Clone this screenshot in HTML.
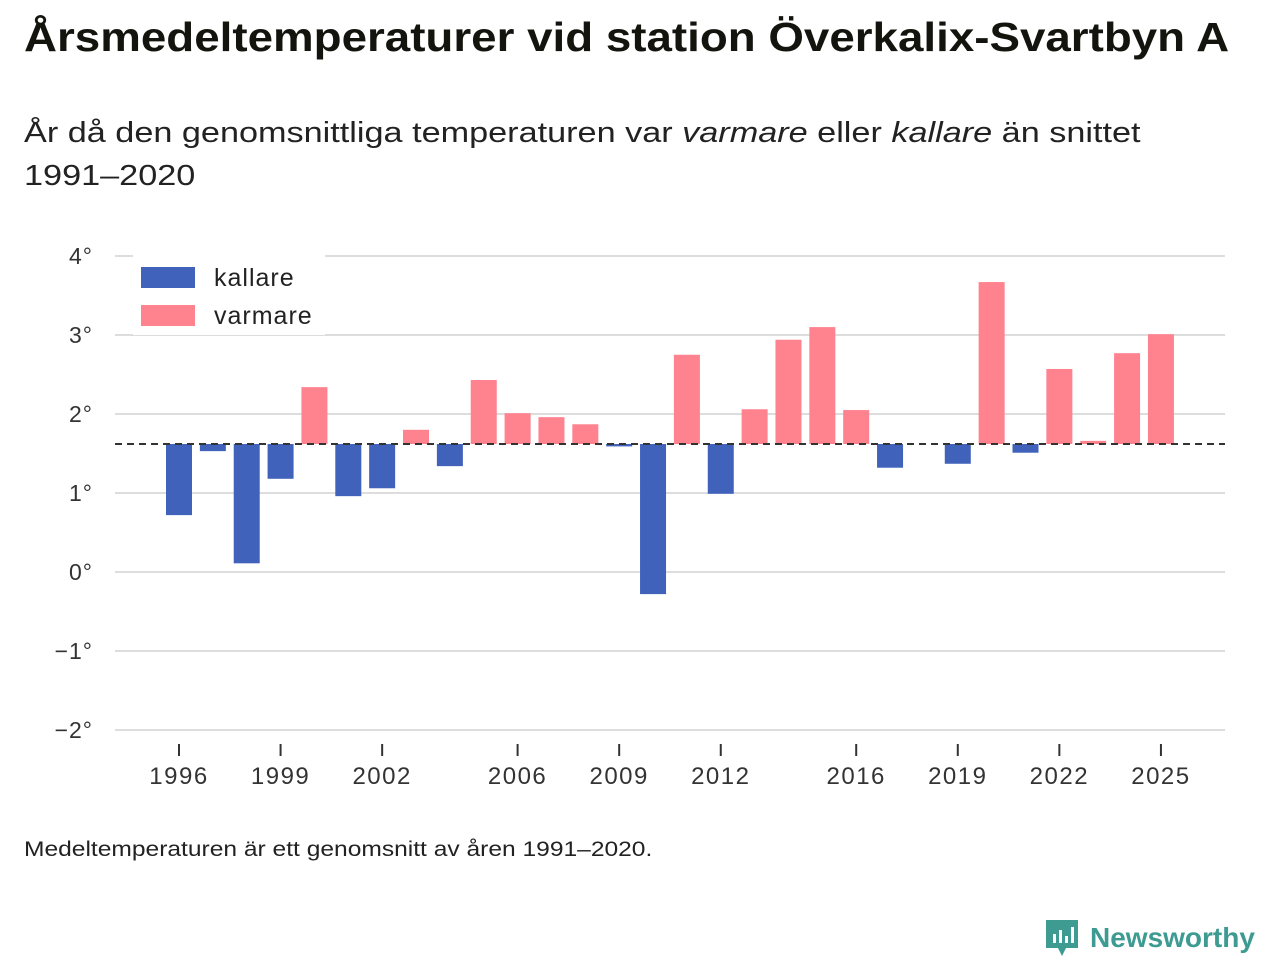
<!DOCTYPE html>
<html><head><meta charset="utf-8">
<style>
body{margin:0;width:1280px;height:960px;background:#fff;font-family:"Liberation Sans","DejaVu Sans",sans-serif;color:#111;overflow:hidden;position:relative}
h1{position:absolute;left:24px;top:14px;margin:0;font-size:41px;font-weight:bold;color:#14140f;white-space:nowrap;transform:scaleX(1.115);transform-origin:left top}
.sub{position:absolute;left:24px;top:112px;font-size:29px;line-height:43px;color:#222;white-space:nowrap;transform:scaleX(1.18);transform-origin:left top}
.foot{position:absolute;left:24px;top:838px;font-size:21px;color:#222;white-space:nowrap;transform:scaleX(1.17);transform-origin:left top}
.logo{position:absolute;left:1044px;top:918px;display:flex;align-items:center;gap:10px;color:#3d9b91;font-size:28px;font-weight:bold}
</style></head><body>
<h1>Årsmedeltemperaturer vid station Överkalix-Svartbyn A</h1>
<div class="sub">År då den genomsnittliga temperaturen var <i>varmare</i> eller <i>kallare</i> än snittet<br>1991–2020</div>
<svg id="chart" width="1280" height="960" style="position:absolute;left:0;top:0"></svg>
<div class="foot">Medeltemperaturen är ett genomsnitt av åren 1991–2020.</div>
<div class="logo"><svg width="36" height="40" viewBox="0 0 36 40"><path d="M2 2h32v28H22l-4 8-4-8H2z" fill="#3d9b91"/><rect x="9" y="16" width="3" height="9" fill="#fff"/><rect x="15" y="12" width="3" height="13" fill="#fff"/><rect x="21" y="18" width="3" height="7" fill="#fff"/><rect x="27" y="9" width="3" height="16" fill="#fff"/></svg><span>Newsworthy</span></div>
<script>
const years=[1996,1997,1998,1999,2000,2001,2002,2003,2004,2005,2006,2007,2008,2009,2010,2011,2012,2013,2014,2015,2016,2017,2018,2019,2020,2021,2022,2023,2024,2025];
const temps=[0.72,1.53,0.11,1.18,2.34,0.96,1.06,1.80,1.34,2.43,2.01,1.96,1.87,1.59,-0.28,2.75,0.99,2.06,2.94,3.10,2.05,1.32,null,1.37,3.67,1.51,2.57,1.66,2.77,3.01];
const baseline=1.62;
const yTicks=[4,3,2,1,0,-1,-2];
const xTickYears=[1996,1999,2002,2006,2009,2012,2016,2019,2022,2025];
const NS="http://www.w3.org/2000/svg";
const svg=document.getElementById('chart');
const yS=v=>572-v*79;
const xS=y=>179+(y-1996)*33.86;
function mk(t,a){const e=document.createElementNS(NS,t);for(const k in a)e.setAttribute(k,a[k]);svg.appendChild(e);return e;}
yTicks.forEach(v=>{
  const l=mk('line',{x1:115,x2:1225,y1:yS(v),y2:yS(v),stroke:'#ddd','stroke-width':2});
  
  
  const t=mk('text',{x:93,y:yS(v)+8,'text-anchor':'end','font-size':23,'letter-spacing':1,fill:'#333'});
  t.textContent=(v<0?'−'+(-v):v)+'°';
  
  
});
xTickYears.forEach(y=>{
  const l=mk('line',{x1:xS(y),x2:xS(y),y1:744,y2:756,stroke:'#333','stroke-width':2});
  
  
  const t=mk('text',{x:xS(y),y:784,'text-anchor':'middle','font-size':24,'letter-spacing':1.5,fill:'#333'});
  t.textContent=y;
  
  
});
years.forEach((y,i)=>{
  const v=temps[i]; if(v===null)return;
  const a=yS(v),b=yS(baseline);
  const r=mk('rect',{x:xS(y)-13,width:26,y:Math.min(a,b),height:Math.max(1,Math.abs(a-b)),fill:v<baseline?'#4062bb':'#ff828f'});
  
  
});
const d=mk('line',{x1:115,x2:1225,y1:yS(baseline),y2:yS(baseline),stroke:'#333','stroke-width':2,'stroke-dasharray':'7,5'});


const bg=mk('rect',{x:133,y:243,width:192,height:92,fill:'#fff'});


[['kallare','#4062bb',267],['varmare','#ff828f',305]].forEach(([n,c,yy])=>{
  const s=mk('rect',{x:141,y:yy,width:54,height:21,fill:c});
  
  
  const t=mk('text',{x:214,y:yy+19,'font-size':25,'letter-spacing':1,fill:'#222'});
  t.textContent=n;
  
  
});
</script>
</body></html>
